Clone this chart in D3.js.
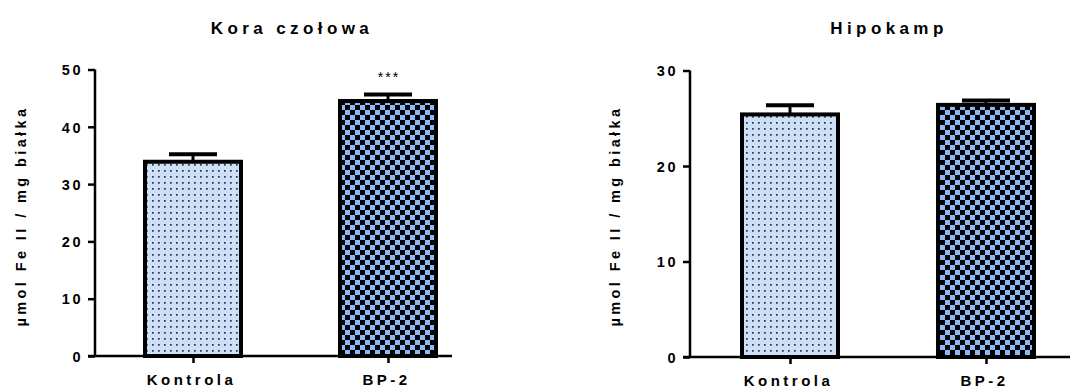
<!DOCTYPE html>
<html><head><meta charset="utf-8">
<script src="https://cdn.jsdelivr.net/npm/d3@7"></script>
<style>
html,body{margin:0;padding:0;background:#fff;}
text{font-family:"Liberation Sans",Arial,sans-serif;font-weight:bold;fill:#000;}
</style></head>
<body>
<svg id="chart" width="1070" height="390"></svg>
<script>
// ---- data ----
const categories = ["Kontrola", "BP-2"];
const koraMeans = [33.9, 44.5];
const koraSem = [1.3, 1.15];
const koraSig = ["", "***"];
const hipoMeans = [25.4, 26.4];
const hipoSem = [0.95, 0.45];
const hipoSig = ["", ""];
const koraTicks = [0, 10, 20, 30, 40, 50];
const hipoTicks = [0, 10, 20, 30];
const titles = ["Kora czołowa", "Hipokamp"];
const yLabel = "µmol Fe II / mg białka";

const svg = d3.select("#chart");
const defs = svg.append("defs");
// dotted pattern
const pd = defs.append("pattern").attr("id","dots").attr("patternUnits","userSpaceOnUse")
  .attr("width",6).attr("height",6);
pd.append("rect").attr("width",6).attr("height",6).attr("fill","#cde0f7");
pd.append("rect").attr("x",2).attr("y",2).attr("width",1.7).attr("height",1.7).attr("fill","#2b3340");
// checker pattern
const pc = defs.append("pattern").attr("id","check").attr("patternUnits","userSpaceOnUse")
  .attr("width",10).attr("height",10);
pc.append("rect").attr("width",10).attr("height",10).attr("fill","#8cb9f6");
pc.append("rect").attr("x",0).attr("y",0).attr("width",5).attr("height",5).attr("fill","#000");
pc.append("rect").attr("x",5).attr("y",5).attr("width",5).attr("height",5).attr("fill","#000");
const fills = ["url(#dots)","url(#check)"];

function panel(cfg){
  const g = svg.append("g");
  const y = d3.scaleLinear().domain([0, cfg.ymax]).range([cfg.y0, cfg.y1]);
  const x = d3.scalePoint().domain(categories).range(cfg.xr);
  const bw = 96;

  categories.forEach((c,i)=>{
    const cx = x(c);
    g.append("line").attr("x1",cx).attr("x2",cx)
      .attr("y1",y(cfg.means[i])).attr("y2",y(cfg.means[i]+cfg.sem[i]))
      .attr("stroke","#000").attr("stroke-width",3);
    g.append("line").attr("x1",cx-24).attr("x2",cx+24)
      .attr("y1",y(cfg.means[i]+cfg.sem[i])).attr("y2",y(cfg.means[i]+cfg.sem[i]))
      .attr("stroke","#000").attr("stroke-width",4);
    g.append("rect").attr("x",cx-bw/2).attr("width",bw)
      .attr("y",y(cfg.means[i])).attr("height",y(0)-y(cfg.means[i]))
      .attr("fill",fills[i]).attr("stroke","#000").attr("stroke-width",4);
    if(cfg.sig[i]){
      g.append("text").attr("x",cx+1).attr("y",y(cfg.means[i]+cfg.sem[i])-12)
        .attr("text-anchor","middle").style("font-size","14px").style("font-weight","normal")
        .style("letter-spacing","2px").text(cfg.sig[i]);
    }
  });

  // y axis
  const yAxis = d3.axisLeft(y).tickValues(cfg.ticks).tickSize(7).tickPadding(5).tickSizeOuter(0);
  const ya = g.append("g").attr("transform",`translate(${cfg.ax},0)`).call(yAxis);
  ya.select(".domain").attr("stroke","#000").attr("stroke-width",2.5)
    .attr("d",`M0,${cfg.y0+1}V${cfg.y1}`);
  ya.selectAll(".tick line").attr("stroke","#000").attr("stroke-width",2.5);
  ya.selectAll(".tick text").style("font-size","14.5px").style("letter-spacing","2.5px")
    .attr("font-family",null).attr("dy","0.36em");

  // x axis
  const xAxis = d3.axisBottom(x).tickSize(7).tickPadding(11).tickSizeOuter(0);
  const xa = g.append("g").attr("transform",`translate(0,${cfg.y0})`).call(xAxis);
  xa.select(".domain").attr("stroke","#000").attr("stroke-width",2.5)
    .attr("d",`M${cfg.ax-7},0H${cfg.xend}`);
  xa.selectAll(".tick line").attr("stroke","#000").attr("stroke-width",2.5);
  xa.selectAll(".tick text").style("font-size","15px").style("letter-spacing","3.5px")
    .attr("font-family",null).attr("dx","-2px");

  // title
  g.append("text").attr("x",cfg.tx).attr("y",34).attr("text-anchor","middle")
    .style("font-size","17px").style("letter-spacing","4.4px").text(cfg.title);
  // y label
  g.append("text").attr("transform",`translate(${cfg.lx},216) rotate(-90)`)
    .attr("text-anchor","middle").style("font-size","14.5px").style("letter-spacing","3.4px")
    .text(yLabel);
}

panel({ymax:50, y0:356, y1:69.5, xr:[193,388], ax:95, xend:452, means:koraMeans, sem:koraSem,
  sig:koraSig, ticks:koraTicks, title:titles[0], tx:292, lx:26});
panel({ymax:30, y0:357, y1:70.5, xr:[790,986], ax:690, xend:1070, means:hipoMeans, sem:hipoSem,
  sig:hipoSig, ticks:hipoTicks, title:titles[1], tx:889, lx:620});
</script>
</body></html>
